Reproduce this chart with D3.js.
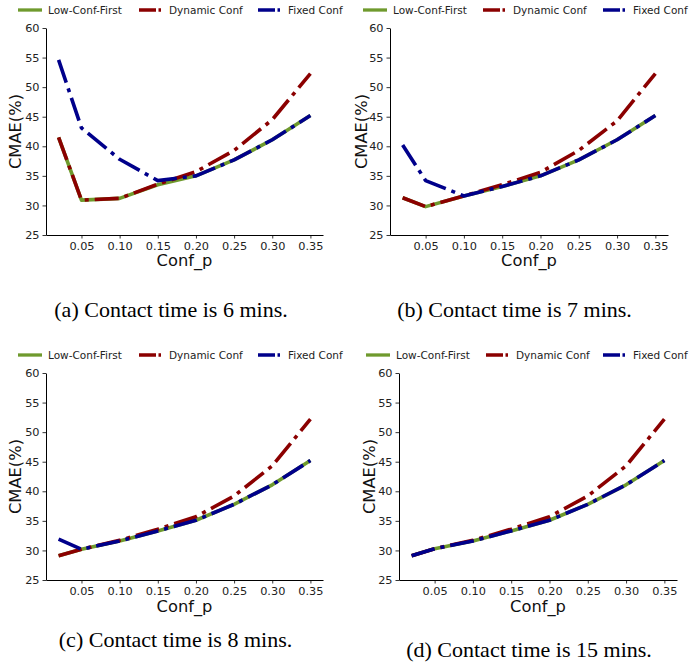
<!DOCTYPE html>
<html>
<head>
<meta charset="utf-8">
<script src="https://cdn.jsdelivr.net/npm/d3@7"></script>
<style>
  html, body { margin: 0; padding: 0; background: #fff; }
  svg { display: block; }
</style>
</head>
<body>
<svg id="chart" width="692" height="670"></svg>
<script>
// ---------------- DATA ----------------
const confP = [0.02, 0.05, 0.10, 0.15, 0.20, 0.25, 0.30, 0.35];
const xTicks = [0.05, 0.10, 0.15, 0.20, 0.25, 0.30, 0.35];
const yTicks = [25, 30, 35, 40, 45, 50, 55, 60];
const seriesNames = ["Low-Conf-First", "Dynamic Conf", "Fixed Conf"];
const captions = [
  "(a) Contact time is 6 mins.",
  "(b) Contact time is 7 mins.",
  "(c) Contact time is 8 mins.",
  "(d) Contact time is 15 mins."
];
const xLabel = "Conf_p";
const yLabel = "CMAE(%)";

// panel (a) 6 mins
const lowA   = [41.5, 30.9, 31.2, 33.5, 35.0, 37.7, 41.1, 45.2];
const dynA   = [41.5, 30.9, 31.2, 33.6, 35.7, 39.3, 44.5, 52.3];
const fixA   = [54.6, 43.1, 37.8, 34.2, 35.0, 37.7, 41.1, 45.2];
// panel (b) 7 mins
const lowB   = [31.3, 29.8, 31.6, 33.2, 35.0, 37.7, 41.1, 45.2];
const dynB   = [31.3, 29.8, 31.6, 33.5, 35.6, 39.3, 44.3, 52.3];
const fixB   = [40.2, 34.2, 31.6, 33.2, 35.0, 37.7, 41.1, 45.2];
// panel (c) 8 mins
const lowC   = [29.1, 30.2, 31.6, 33.3, 35.1, 37.8, 41.1, 45.2];
const dynC   = [29.1, 30.2, 31.7, 33.6, 35.7, 39.2, 44.3, 52.2];
const fixC   = [31.9, 30.2, 31.6, 33.3, 35.1, 37.8, 41.1, 45.2];
// panel (d) 15 mins
const lowD   = [29.1, 30.3, 31.6, 33.3, 35.1, 37.8, 41.1, 45.2];
const dynD   = [29.1, 30.3, 31.7, 33.6, 35.7, 39.2, 44.3, 52.2];
const fixD   = [29.1, 30.3, 31.6, 33.3, 35.1, 37.8, 41.1, 45.2];

const panelData = [
  [lowA, dynA, fixA],
  [lowB, dynB, fixB],
  [lowC, dynC, fixC],
  [lowD, dynD, fixD]
];

// ---------------- LAYOUT / STYLE ----------------
const colors = ["#6f9a2d", "#8b0000", "#00008b"];
const dashes = [null, "24,6,4,6", "24,6,4,6"];
const layouts = [
  {x0: 46,  x1: 323, y0: 28,  y1: 235, legY: 10,  legX: [18, 139, 258],  ylabX: 15,  xlabY: 266, capX: 171,   capY: 317},
  {x0: 390, x1: 668, y0: 28,  y1: 235, legY: 10,  legX: [363, 483, 603], ylabX: 361, xlabY: 266, capX: 514.5, capY: 317},
  {x0: 46,  x1: 323, y0: 373, y1: 580, legY: 355, legX: [18, 139, 258],  ylabX: 15,  xlabY: 612, capX: 175.5, capY: 647},
  {x0: 399, x1: 677, y0: 373, y1: 580, legY: 355, legX: [366, 486, 603], ylabX: 369, xlabY: 612, capX: 529,   capY: 657}
];

const svg = d3.select("#chart");
const sansFont = "'DejaVu Sans', sans-serif";
const serifFont = "'Liberation Serif', 'Times New Roman', serif";

layouts.forEach((L, pi) => {
  const g = svg.append("g");
  const dmin = d3.min(confP), dmax = d3.max(confP);
  const pad = (dmax - dmin) * 0.05;
  const x = d3.scaleLinear().domain([dmin - pad, dmax + pad]).range([L.x0, L.x1]);
  const y = d3.scaleLinear().domain([25, 60]).range([L.y1, L.y0]);

  // axes
  const xAxis = d3.axisBottom(x).tickValues(xTicks).tickFormat(d3.format(".2f"))
      .tickSizeInner(3.5).tickSizeOuter(0).tickPadding(3);
  const yAxis = d3.axisLeft(y).tickValues(yTicks).tickFormat(d3.format("d"))
      .tickSizeInner(3.5).tickSizeOuter(0).tickPadding(3);

  const gx = g.append("g").attr("transform", `translate(0,${L.y1})`).call(xAxis);
  const gy = g.append("g").attr("transform", `translate(${L.x0},0)`).call(yAxis);
  [gx, gy].forEach(a => {
    a.selectAll("path.domain").attr("stroke", "#000").attr("stroke-width", 1);
    a.selectAll(".tick line").attr("stroke", "#000").attr("stroke-width", 0.8);
    a.selectAll(".tick text").attr("fill", "#222").style("font-family", sansFont).style("font-size", "11.3px");
  });

  // lines
  const line = d3.line().x((d, i) => x(confP[i])).y(d => y(d));
  panelData[pi].forEach((vals, si) => {
    const p = g.append("path").datum(vals)
      .attr("d", line)
      .attr("fill", "none")
      .attr("stroke", colors[si])
      .attr("stroke-width", 3.6)
      .attr("stroke-linejoin", "round")
      .attr("stroke-linecap", "butt");
    if (dashes[si]) p.attr("stroke-dasharray", dashes[si]);
  });

  // axis labels
  g.append("text")
    .attr("x", (L.x0 + L.x1) / 2).attr("y", L.xlabY)
    .attr("text-anchor", "middle")
    .style("font-family", sansFont).style("font-size", "16.3px").attr("fill", "#111")
    .text(xLabel);
  g.append("text")
    .attr("transform", `translate(${L.ylabX + 6},${(L.y0 + L.y1) / 2}) rotate(-90)`)
    .attr("text-anchor", "middle")
    .style("font-family", sansFont).style("font-size", "16.3px").attr("fill", "#111")
    .text(yLabel);

  // legend
  seriesNames.forEach((name, si) => {
    const lx = L.legX[si];
    const ll = g.append("line")
      .attr("x1", lx).attr("x2", lx + 24)
      .attr("y1", L.legY).attr("y2", L.legY)
      .attr("stroke", colors[si]).attr("stroke-width", 3.3);
    if (dashes[si]) ll.attr("stroke-dasharray", "17,2.5,2.5,3");
    g.append("text")
      .attr("x", lx + 30).attr("y", L.legY + 3.6)
      .style("font-family", sansFont).style("font-size", "10.5px").attr("fill", "#222")
      .text(name);
  });

  // caption
  svg.append("text")
    .attr("x", L.capX).attr("y", L.capY)
    .attr("text-anchor", "middle")
    .style("font-family", serifFont).style("font-size", "22px").attr("fill", "#000")
    .text(captions[pi]);
});
</script>
</body>
</html>
